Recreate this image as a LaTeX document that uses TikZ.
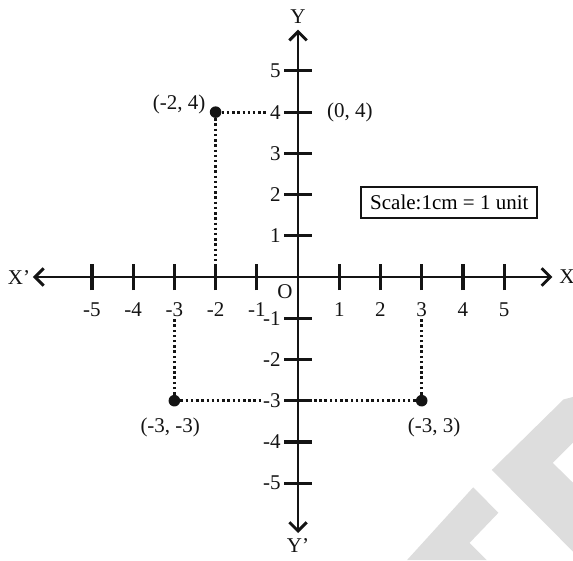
\documentclass[tikz,border=0pt]{standalone}
\usepackage{fontspec}
\setmainfont{Liberation Serif}
\usepackage{tikz}
\usetikzlibrary{positioning, arrows.meta}
\definecolor{AxBlack}{RGB}{20,20,20}
\definecolor{MarkGray}{RGB}{221,221,221}

\begin{document}
\begin{tikzpicture}[
    lbl/.style={font=\fontsize{14.5}{16}\selectfont, inner sep=1pt, text=AxBlack},
    axis/.style={line width=2pt, draw=AxBlack,
                 {Straight Barb[length=6pt, width=12pt]}-{Straight Barb[length=6pt, width=12pt]}},
    tickmark/.style={line width=2.2pt, draw=AxBlack},
    guide/.style={line width=2pt, draw=AxBlack, dash pattern=on 1.7pt off 1.9pt},
    ptdot/.style={circle, fill=AxBlack, inner sep=0pt, minimum size=8pt},
    scalebox/.style={draw=AxBlack, line width=1.6pt, minimum width=4.27cm,
                     minimum height=0.75cm, font=\fontsize{14.5}{16}\selectfont}
  ]
  \useasboundingbox (-7.23,-6.87) rectangle (6.67,6.72);

  % watermark
  \fill[MarkGray] (4.70,-4.68) -- (6.44,-2.97) -- (6.67,-2.91) -- (6.67,-4.02)
    -- (6.18,-4.51) -- (6.67,-4.99) -- (6.67,-6.66) -- cycle;
  \fill[MarkGray] (4.25,-5.10) -- (4.86,-5.72) -- (4.16,-6.45) -- (4.58,-6.87)
    -- (2.64,-6.87) -- cycle;

  % axes
  \coordinate (xw) at (-6.43,0);
  \coordinate (xe) at (6.17,0);
  \coordinate (yn) at (0,6.0);
  \coordinate (ys) at (0,-6.21);
  \draw[axis] (xw) -- (xe);
  \draw[axis] (ys) -- (yn);

  \node[lbl, right=0.13cm of xe] (xlab) {X};
  \node[lbl, left=0.03cm of xw] (xlabm) {X'};
  \node[lbl, above=0.1cm of yn] (ylab) {Y};
  \node[lbl, below=0.1cm of ys] (ylabm) {Y'};
  \node[lbl] (orig) at (-0.32,-0.36) {O};

  \foreach \k in {1,...,5} {
    \draw[tickmark] (\k,-0.32) -- (\k,0.32);
    \draw[tickmark] (-\k,-0.32) -- (-\k,0.32);
    \draw[tickmark] (-0.33,\k) -- (0.33,\k);
    \draw[tickmark] (-0.33,-\k) -- (0.33,-\k);
    \node[lbl] (xp\k) at (\k,-0.8) {\k};
    \node[lbl] (xm\k) at (-\k,-0.8) {-\k};
    \node[lbl, anchor=east] (yp\k) at (-0.38,\k) {\k};
    \node[lbl, anchor=east] (ym\k) at (-0.38,-\k) {-\k};
  }

  % points
  \node[ptdot] (pa) at (-2,4) {};
  \node[ptdot] (pb) at (-3,-3) {};
  \node[ptdot] (pc) at (3,-3) {};
  \coordinate (ta) at (-2,0.32);
  \coordinate (tc) at (0.38,-3);

  \node[lbl, left=0.06cm of pa, yshift=0.19cm] (pal) {(-2, 4)};
  \node[lbl] (pdl) at (1.26,4) {(0, 4)};
  \node[lbl, below=0.22cm of pb, xshift=-0.1cm] (pbl) {(-3, -3)};
  \node[lbl, below=0.24cm of pc, xshift=0.3cm] (pcl) {(-3, 3)};

  \draw[guide] (pa) -- (yp4);
  \draw[guide] (pa) -- (ta);
  \draw[guide] (pb) -- (ym3);
  \draw[guide] (pb) -- (xm3);
  \draw[guide] (pc) -- (tc);
  \draw[guide] (pc) -- (xp3);

  \node[scalebox] (scl) at (3.67,1.81) {Scale:1cm = 1 unit};
\end{tikzpicture}
\end{document}
